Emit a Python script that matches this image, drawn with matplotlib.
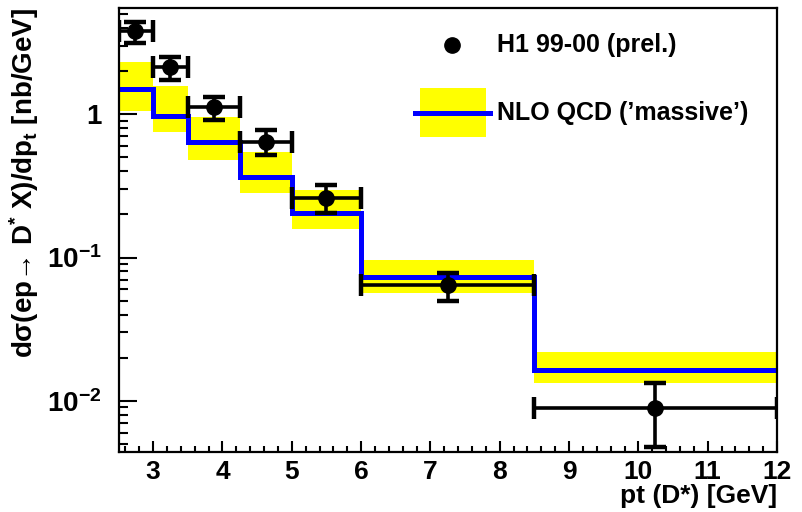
"""D* cross section vs pt: H1 data against NLO QCD"""

import matplotlib
matplotlib.use("Agg")
import matplotlib.pyplot as plt
import numpy as np
from matplotlib.patches import Rectangle
from matplotlib.ticker import FixedLocator, FixedFormatter, LogLocator, NullFormatter, MultipleLocator

plt.rcParams['font.family'] = ['Liberation Sans', 'DejaVu Sans']
plt.rcParams['font.weight'] = 'bold'
plt.rcParams['mathtext.fontset'] = 'custom'
plt.rcParams['mathtext.rm'] = 'Liberation Sans:bold'
plt.rcParams['mathtext.it'] = 'Liberation Sans:bold'
plt.rcParams['mathtext.bf'] = 'Liberation Sans:bold'
plt.rcParams['mathtext.sf'] = 'Liberation Sans:bold'
plt.rcParams['mathtext.default'] = 'rm'

# pt bins [GeV]
BIN_EDGES = [2.5, 3.0, 3.5, 4.25, 5.0, 6.0, 8.5, 12.0]

# H1 99-00 (prel.) data points
DATA_X = [2.74, 3.25, 3.88, 4.63, 5.5, 7.25, 10.24]
DATA_Y = [3.83, 2.14, 1.12, 0.641, 0.26, 0.0644, 0.0089]
DATA_YHI = [4.41, 2.51, 1.32, 0.777, 0.321, 0.078, 0.0133]
DATA_YLO = [3.14, 1.73, 0.91, 0.52, 0.205, 0.0498, 0.0048]

# NLO QCD ('massive') prediction and uncertainty band
NLO_Y = [1.50, 0.973, 0.641, 0.365, 0.205, 0.0731, 0.0164]
NLO_HI = [2.32, 1.58, 0.957, 0.545, 0.296, 0.0957, 0.0218]
NLO_LO = [1.05, 0.75, 0.48, 0.282, 0.158, 0.0567, 0.0133]

YTICKS = [0.01, 0.1, 1]
YTICK_LABELS = ['10$^{-2}$', '10$^{-1}$', '1']


def main():
    """
    Main
    """
    edges = np.array(BIN_EDGES)
    x = np.array(DATA_X)
    y = np.array(DATA_Y)
    xerr = [x - edges[:-1], edges[1:] - x]
    yerr = [y - np.array(DATA_YLO), np.array(DATA_YHI) - y]

    fig = plt.figure(figsize=(8.02, 5.12), dpi=100)
    ax = fig.add_axes([118.5 / 802, 60.5 / 512, 658.5 / 802, 443.5 / 512])

    ax.stairs(NLO_HI, edges, baseline=NLO_LO, fill=True, color='#ffff00', lw=0, zorder=1)
    ax.stairs(NLO_Y, edges, baseline=None, color='#0000ff', lw=3.6, zorder=2)
    ax.errorbar(x, y, xerr=xerr, yerr=yerr, fmt='o', color='black', ms=11,
                elinewidth=2.6, capsize=8, capthick=3.2, zorder=3)

    ax.set_yscale('log')
    ax.set_xlim(2.5, 12)
    ax.set_ylim(0.00443, 5.52)

    ax.yaxis.set_major_locator(FixedLocator(YTICKS))
    ax.yaxis.set_major_formatter(FixedFormatter(YTICK_LABELS))
    ax.yaxis.set_minor_locator(LogLocator(base=10, subs=np.arange(2, 10)))
    ax.yaxis.set_minor_formatter(NullFormatter())
    ax.xaxis.set_major_locator(MultipleLocator(1))
    ax.xaxis.set_minor_locator(MultipleLocator(0.2))

    ax.tick_params(axis='y', which='major', direction='in', length=13, width=1.5,
                   labelsize=20, pad=12, right=False)
    ax.tick_params(axis='y', which='minor', direction='in', length=6.5, width=1.5, right=False)
    ax.tick_params(axis='x', which='major', direction='in', length=8, width=1.5,
                   labelsize=19, pad=6, top=False)
    ax.tick_params(axis='x', which='minor', direction='in', length=4, width=1.5, top=False)
    for sp in ax.spines.values():
        sp.set_linewidth(1.6)

    ax.set_ylabel('d\u03c3(ep\u2192 D$^{*}$ X)/dp$_{t}$ [nb/GeV]', loc='top',
                  fontsize=20, fontweight='bold', labelpad=4)
    ax.set_xlabel('pt (D*) [GeV]', loc='right', fontsize=19, fontweight='bold', labelpad=0)

    # legend
    ax.plot([0.507], [0.917], 'o', color='black', ms=11, transform=ax.transAxes,
            clip_on=False, zorder=4)
    ax.text(0.575, 0.917, 'H1 99-00 (prel.)', transform=ax.transAxes, fontsize=18,
            fontweight='bold', va='center', ha='left')
    ax.add_patch(Rectangle((0.458, 0.709), 0.100, 0.111, transform=ax.transAxes,
                           facecolor='#ffff00', lw=0, zorder=4))
    ax.plot([0.450, 0.564], [0.763, 0.763], color='#0000ff', lw=3.6,
            transform=ax.transAxes, zorder=5)
    ax.text(0.575, 0.763, 'NLO QCD (\u2019massive\u2019)', transform=ax.transAxes,
            fontsize=18, fontweight='bold', va='center', ha='left')

    fig.savefig('out.png', dpi=100)


main()
